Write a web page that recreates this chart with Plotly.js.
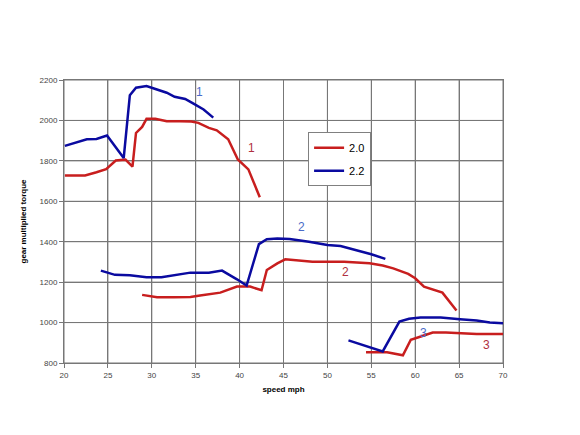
<!DOCTYPE html>
<html>
<head>
<meta charset="utf-8">
<script src="https://cdn.plot.ly/plotly-3.0.1.min.js"></script>
<style>
  html, body { margin: 0; padding: 0; background: #fff; }
  #plot { width: 580px; height: 435px; }
</style>
</head>
<body>
<div id="plot"></div>
<script>
// 2.0 series, one array pair per gear
const red1X = [20.1, 22.4, 23.7, 24.8, 25.9, 27.0, 27.8, 28.2, 28.9, 29.4, 30.4, 31.7, 33.2, 34.5, 35.3, 36.5, 37.4, 38.7, 39.8, 41.0, 42.3];
const red1Y = [1728, 1728, 1744, 1759, 1802, 1806, 1772, 1938, 1968, 2008, 2008, 1996, 1996, 1995, 1988, 1963, 1951, 1907, 1807, 1758, 1620];
const red2X = [28.9, 30.6, 32.5, 34.4, 35.5, 37.8, 39.7, 41.2, 42.5, 43.1, 44.3, 45.2, 48.3, 51.9, 54.8, 56.3, 57.5, 59.2, 60.0, 61.0, 63.1, 64.7];
const red2Y = [1137, 1125, 1125, 1127, 1134, 1148, 1178, 1178, 1160, 1260, 1293, 1313, 1301, 1301, 1293, 1282, 1268, 1241, 1219, 1178, 1148, 1060];
const red3X = [54.4, 56.8, 58.6, 59.5, 60.9, 62.0, 63.5, 65.0, 67.0, 70.0];
const red3Y = [853, 853, 838, 915, 935, 951, 951, 948, 943, 943];

// 2.2 series
const blue1X = [20.1, 21.4, 22.6, 23.7, 24.9, 26.8, 27.5, 28.2, 29.4, 30.5, 31.7, 32.6, 33.8, 34.7, 35.9, 37.0];
const blue1Y = [1874, 1893, 1907, 1908, 1925, 1814, 2125, 2162, 2170, 2154, 2137, 2117, 2106, 2084, 2054, 2014];
const blue2X = [24.2, 25.8, 27.5, 29.4, 31.1, 32.7, 34.4, 36.5, 38.0, 39.7, 40.8, 42.2, 43.1, 44.3, 45.7, 47.9, 50.0, 51.5, 53.2, 55.0, 56.6];
const blue2Y = [1257, 1236, 1234, 1224, 1224, 1236, 1247, 1247, 1257, 1214, 1183, 1388, 1412, 1416, 1413, 1400, 1384, 1379, 1359, 1338, 1315];
const blue3X = [52.4, 56.3, 58.2, 59.3, 60.6, 62.9, 65.1, 67.0, 68.5, 70.0];
const blue3Y = [912, 857, 1005, 1019, 1025, 1025, 1017, 1010, 1000, 997];

// tick values
const xTicks = [20, 25, 30, 35, 40, 45, 50, 55, 60, 65, 70];
const yTicks = [800, 1000, 1200, 1400, 1600, 1800, 2000, 2200];

// gear labels
const labelText = ["1", "1", "2", "2", "3", "3"];
const labelX = [35.4, 41.3, 47.1, 52.1, 60.9, 68.1];
const labelY = [2142, 1865, 1471, 1249, 948, 890];
const labelSeries = ["2.2", "2.0", "2.2", "2.0", "2.2", "2.0"];

const lineColor = { "2.0": "#c81e1e", "2.2": "#0a0aa0" };
const textColor = { "2.0": "#b03040", "2.2": "#4a6bc8" };
const gridColor = "#777";

// join the gear segments of one series with gaps
function joinGears(parts) {
  let out = [];
  parts.forEach((p, i) => { if (i > 0) out.push(null); out = out.concat(p); });
  return out;
}

function seriesTrace(xs, ys, series) {
  return {
    x: xs, y: ys,
    type: "scatter", mode: "lines",
    name: series,
    legendgroup: series,
    connectgaps: false,
    line: { color: lineColor[series], width: 2.5 },
    hoverinfo: "x+y"
  };
}

const traces = [
  seriesTrace(joinGears([red1X, red2X, red3X]), joinGears([red1Y, red2Y, red3Y]), "2.0"),
  seriesTrace(joinGears([blue1X, blue2X, blue3X]), joinGears([blue1Y, blue2Y, blue3Y]), "2.2")
];

const annotations = labelText.map((t, i) => ({
  x: labelX[i], y: labelY[i], text: t,
  showarrow: false,
  font: { size: 12, color: textColor[labelSeries[i]] }
}));

// grid drawn as shapes at the tick values as well, so it shows reliably
const gridShapes = xTicks.map(v => ({
  type: "line", xref: "x", yref: "paper", x0: v, x1: v, y0: 0, y1: 1,
  line: { color: gridColor, width: 1 }, layer: "below"
})).concat(yTicks.map(v => ({
  type: "line", xref: "paper", yref: "y", x0: 0, x1: 1, y0: v, y1: v,
  line: { color: gridColor, width: 1 }, layer: "below"
})));

const layout = {
  width: 580, height: 435,
  margin: { l: 64, r: 77, t: 80, b: 72 },
  paper_bgcolor: "#fff",
  plot_bgcolor: "#fff",
  font: { family: "Liberation Sans, Arial, sans-serif", color: "#444" },
  showlegend: true,
  legend: {
    x: 0.556, y: 0.815, xanchor: "left", yanchor: "top",
    bgcolor: "#fff", bordercolor: "#808080", borderwidth: 1,
    font: { size: 11, color: "#000" },
    tracegroupgap: 4
  },
  xaxis: {
    range: [20, 70], tickmode: "array", tickvals: xTicks,
    showgrid: true, gridcolor: gridColor, gridwidth: 1,
    showline: true, linecolor: gridColor, linewidth: 1, mirror: true,
    ticks: "outside", ticklen: 4, tickcolor: gridColor,
    tickfont: { size: 8, color: "#444" },
    zeroline: false,
    title: { text: "speed mph", font: { size: 8, color: "#000", weight: "bold" }, standoff: 7 }
  },
  yaxis: {
    range: [800, 2200], tickmode: "array", tickvals: yTicks,
    showgrid: true, gridcolor: gridColor, gridwidth: 1,
    showline: true, linecolor: gridColor, linewidth: 1, mirror: true,
    ticks: "outside", ticklen: 4, tickcolor: gridColor,
    tickfont: { size: 8, color: "#444" },
    zeroline: false,
    title: { text: "gear multiplied torque", font: { size: 8, color: "#000", weight: "bold" }, standoff: 11 }
  },
  shapes: gridShapes,
  annotations: annotations
};

Plotly.newPlot("plot", traces, layout, { displayModeBar: false });
</script>
</body>
</html>
